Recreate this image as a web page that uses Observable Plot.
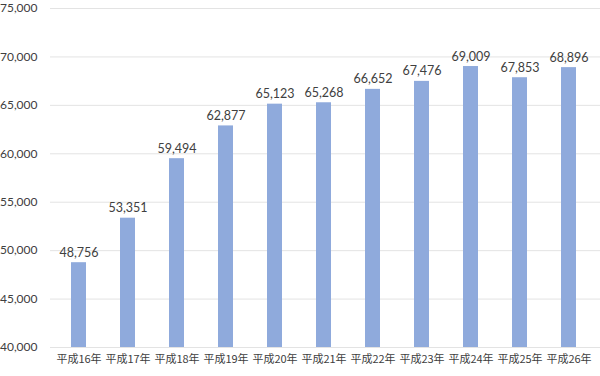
<!DOCTYPE html>
<html><head><meta charset="utf-8">
<script src="https://cdn.jsdelivr.net/npm/d3@7"></script>
<script src="https://cdn.jsdelivr.net/npm/@observablehq/plot@0.6"></script>
<style>body{margin:0;background:#fff}</style>
</head><body><div id="chart"></div>
<script>
const years = ["平成16年","平成17年","平成18年","平成19年","平成20年","平成21年","平成22年","平成23年","平成24年","平成25年","平成26年"];
const values = [48756,53351,59494,62877,65123,65268,66652,67476,69009,67853,68896];
const yTicks = [40000,45000,50000,55000,60000,65000,70000,75000];
const data = years.map((y,i)=>({year:y, value:values[i]}));
const fmt = d3.format(",");
const chart = Plot.plot({
  width: 600, height: 376,
  marginTop: 8, marginBottom: 29, marginLeft: 50, marginRight: 0,
  style: {fontFamily: "Lato,'Open Sans','Noto Sans CJK JP',sans-serif", fontSize: "12px", color: "#404040"},
  x: {domain: years, range: [50, 597], paddingInner: 0.69, paddingOuter: 0.345, label: null},
  y: {domain: [40000, 75000], label: null},
  marks: [
    Plot.ruleY(yTicks, {stroke: "#e3e3e3", strokeWidth: 1}),
    Plot.axisY({ticks: yTicks, tickFormat: fmt, tickSize: 0, tickPadding: 13, fontSize: 12, fill: "#404040"}),
    Plot.axisX({tickSize: 0, tickPadding: 8, fontSize: 11, fill: "#404040", fontFamily: "'Noto Sans CJK JP',sans-serif"}),
    Plot.barY(data, {x: "year", y1: 40000, y2: "value", fill: "#8faadc"}),
    Plot.text(data, {x: "year", y: "value", text: d => fmt(d.value), dy: -10, fontSize: 12.5, fill: "#404040"})
  ]
});
document.getElementById("chart").append(chart);
</script></body></html>
